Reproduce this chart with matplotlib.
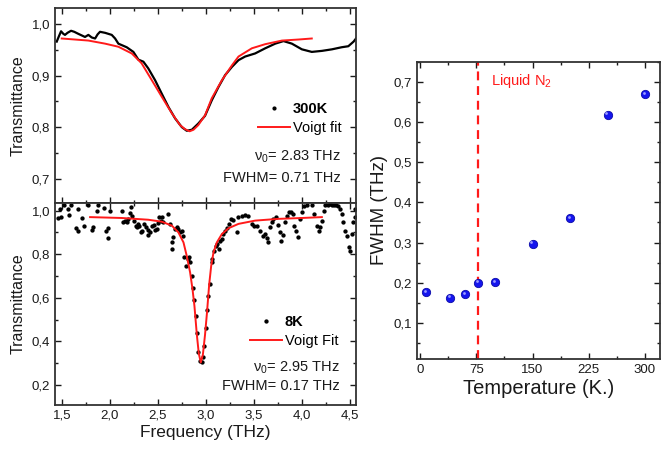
import matplotlib
matplotlib.use("Agg")
import matplotlib.pyplot as plt
import matplotlib.transforms as mtransforms
from matplotlib.ticker import MultipleLocator, FuncFormatter

plt.rcParams['font.family'] = ['Liberation Sans', 'DejaVu Sans']
plt.rcParams['mathtext.fontset'] = 'custom'
plt.rcParams['mathtext.rm'] = 'Liberation Sans'
plt.rcParams['mathtext.it'] = 'Liberation Sans'

# ---- 300 K spectrum ----
freq_300 = [1.448, 1.47, 1.493, 1.517, 1.534, 1.56, 1.597, 1.63, 1.673, 1.742,
            1.777, 1.812, 1.847, 1.873, 1.898, 1.951, 2.02, 2.055, 2.089, 2.176,
            2.245, 2.297, 2.349, 2.40, 2.471, 2.54, 2.61, 2.679, 2.749, 2.80,
            2.853, 2.92, 2.99, 3.06, 3.13, 3.199, 3.27, 3.338, 3.407, 3.511,
            3.616, 3.72, 3.806, 3.893, 3.997, 4.10, 4.206, 4.31, 4.41, 4.48,
            4.535, 4.56]
trans_300 = [0.966, 0.976, 0.986, 0.981, 0.979, 0.983, 0.987, 0.985, 0.981, 0.975,
             0.979, 0.974, 0.972, 0.980, 0.985, 0.983, 0.979, 0.972, 0.962, 0.955,
             0.946, 0.931, 0.927, 0.914, 0.891, 0.865, 0.839, 0.817, 0.800, 0.793,
             0.795, 0.807, 0.822, 0.852, 0.878, 0.901, 0.917, 0.930, 0.937, 0.943,
             0.953, 0.962, 0.967, 0.962, 0.951, 0.946, 0.948, 0.951, 0.955, 0.957,
             0.966, 0.972]

fit_f_300 = [1.50, 1.777, 1.951, 2.089, 2.228, 2.33, 2.437, 2.54, 2.645, 2.73,
             2.783, 2.83, 2.87, 2.92, 2.99, 3.06, 3.165, 3.27, 3.338, 3.477,
             3.616, 3.79, 3.96, 4.10]
fit_t_300 = [0.972, 0.968, 0.962, 0.956, 0.943, 0.924, 0.891, 0.859, 0.827, 0.804,
             0.796, 0.792, 0.795, 0.804, 0.823, 0.856, 0.891, 0.920, 0.937, 0.953,
             0.961, 0.968, 0.970, 0.972]

# ---- 8 K spectrum ----
freq_8 = [1.458, 1.493, 1.482, 1.527, 1.562, 1.576, 1.597, 1.646, 1.666, 1.673,
          1.714, 1.735, 1.777, 1.812, 1.829, 1.864, 1.875, 1.943, 1.958, 1.979,
          1.985, 2.003, 2.124, 2.141, 2.159, 2.176, 2.193, 2.211, 2.221, 2.235,
          2.256, 2.27, 2.28, 2.291, 2.304, 2.325, 2.339, 2.36, 2.374, 2.395,
          2.401, 2.419, 2.443, 2.464, 2.471, 2.489, 2.505, 2.512, 2.533, 2.547,
          2.557, 2.609, 2.627, 2.645, 2.651, 2.661, 2.679, 2.697, 2.713, 2.731,
          2.749, 2.765, 2.776, 2.79, 2.811, 2.825, 2.835, 2.853, 2.87, 2.88,
          2.894, 2.905, 2.92, 2.94, 2.955, 2.97, 2.98, 3.0, 3.009, 3.026,
          3.043, 3.061, 3.067, 3.088, 3.102, 3.113, 3.137, 3.147, 3.165, 3.182,
          3.2, 3.217, 3.241, 3.262, 3.286, 3.321, 3.338, 3.373, 3.407, 3.442,
          3.477, 3.504, 3.529, 3.564, 3.588, 3.616, 3.633, 3.644, 3.668, 3.685,
          3.702, 3.727, 3.754, 3.772, 3.782, 3.796, 3.824, 3.841, 3.858, 3.886,
          3.9, 3.92, 3.935, 3.956, 3.98, 3.997, 4.014, 4.05, 4.102, 4.118,
          4.153, 4.17, 4.188, 4.205, 4.222, 4.24, 4.27, 4.29, 4.31, 4.33,
          4.35, 4.37, 4.396, 4.413, 4.42, 4.441, 4.465, 4.482, 4.5, 4.517,
          4.524, 4.545, 4.552]
trans_8 = [0.965, 0.970, 1.008, 1.026, 1.005, 0.980, 1.026, 0.919, 0.908, 1.008,
           0.965, 0.931, 1.026, 0.912, 0.923, 1.000, 1.026, 1.011, 0.908, 0.873,
           0.919, 1.000, 1.000, 0.946, 0.954, 0.946, 0.962, 0.989, 1.016, 0.977,
           0.954, 0.931, 0.923, 0.939, 0.928, 0.903, 0.908, 0.939, 0.923, 0.888,
           0.912, 0.903, 0.928, 0.934, 0.912, 0.916, 0.943, 0.970, 0.954, 0.970,
           0.946, 0.985, 0.939, 0.857, 0.826, 0.877, 0.916, 0.923, 0.916, 0.900,
           0.908, 0.885, 0.785, 0.746, 0.777, 0.785, 0.762, 0.700, 0.646, 0.592,
           0.515, 0.439, 0.350, 0.310, 0.305, 0.330, 0.380, 0.460, 0.546, 0.608,
           0.662, 0.762, 0.777, 0.815, 0.838, 0.846, 0.823, 0.862, 0.869, 0.892,
           0.908, 0.919, 0.939, 0.962, 0.958, 0.900, 0.970, 0.974, 0.980, 0.977,
           0.939, 0.931, 0.931, 0.908, 0.885, 0.892, 0.873, 0.854, 0.923, 0.946,
           0.962, 0.970, 0.934, 0.900, 0.862, 0.888, 0.946, 0.977, 0.992, 0.995,
           0.985, 0.931, 0.908, 0.877, 0.962, 0.992, 1.020, 1.026, 1.026, 0.985,
           0.931, 0.908, 0.923, 0.954, 1.000, 1.026, 1.025, 1.028, 1.026, 1.027,
           1.025, 1.020, 1.008, 0.985, 0.946, 0.908, 0.885, 0.831, 0.815, 0.892,
           0.946, 0.970, 1.008]

fit_f_8 = [1.795, 2.124, 2.40, 2.54, 2.645, 2.713, 2.766, 2.80, 2.835, 2.86,
           2.88, 2.905, 2.925, 2.946, 2.968, 2.99, 3.01, 3.033, 3.054, 3.078,
           3.113, 3.165, 3.234, 3.338, 3.511, 3.754, 3.997, 4.205]
fit_t_8 = [0.970, 0.966, 0.958, 0.949, 0.931, 0.900, 0.854, 0.792, 0.716, 0.639,
           0.562, 0.430, 0.345, 0.303, 0.340, 0.430, 0.530, 0.660, 0.746, 0.808,
           0.854, 0.892, 0.919, 0.939, 0.954, 0.962, 0.966, 0.970]

# ---- FWHM vs temperature ----
temp_K = [8, 40, 60, 77, 100, 150, 200, 250, 300]
fwhm_THz = [0.176, 0.163, 0.171, 0.200, 0.202, 0.297, 0.360, 0.618, 0.669]
liquid_n2_K = 77

red = '#ff1a1a'
txt = '#1a1a1a'
comma = FuncFormatter(lambda v, p: ('%.1f' % v).replace('.', ','))


def style_axes(ax):
    ax.tick_params(which='both', direction='in', top=True, right=True,
                   width=1.0, colors=txt, labelsize=9.5)
    ax.tick_params(which='major', length=4.5)
    ax.tick_params(which='minor', length=2.5)
    for s in ax.spines.values():
        s.set_linewidth(1.3)
        s.set_color('#333333')


fig = plt.figure(figsize=(6.61, 4.49), dpi=100)
ax1 = fig.add_axes([0.0832, 0.548, 0.4554, 0.434])
ax2 = fig.add_axes([0.0832, 0.098, 0.4554, 0.450])
ax3 = fig.add_axes([0.6304, 0.2004, 0.3681, 0.6622])

# top panel: 300 K
ax1.plot(freq_300, trans_300, color='black', lw=1.6)
ax1.plot([], [], ls='none', marker='o', ms=2.0, color='black', label='300K')
ax1.plot(fit_f_300, fit_t_300, color=red, lw=1.4, label='Voigt fit')
ax1.set_xlim(1.43, 4.56)
ax1.set_ylim(0.653, 1.031)
ax1.xaxis.set_major_locator(MultipleLocator(0.5))
ax1.xaxis.set_minor_locator(MultipleLocator(0.25))
ax1.yaxis.set_major_locator(MultipleLocator(0.1))
ax1.yaxis.set_minor_locator(MultipleLocator(0.05))
ax1.yaxis.set_major_formatter(comma)
ax1.tick_params(labelbottom=False)
ax1.set_ylabel('Transmittance', fontsize=11.5, color=txt)
style_axes(ax1)
leg1 = ax1.legend(loc='lower right', bbox_to_anchor=(0.97, 0.32), frameon=False,
                  fontsize=10.5, handlelength=2.2, handletextpad=0.2,
                  borderaxespad=0, labelspacing=0.3)
leg1.get_texts()[0].set_fontweight('bold')
ax1.text(0.95, 0.236, r'ν$_0$= 2.83 THz', transform=ax1.transAxes,
         ha='right', va='center', fontsize=10.5, color=txt)
ax1.text(0.95, 0.128, 'FWHM= 0.71 THz', transform=ax1.transAxes,
         ha='right', va='center', fontsize=10.5, color=txt)

# bottom panel: 8 K
ax2.plot(freq_8, trans_8, ls='none', marker='o', ms=2.1, color='black', label='8K')
ax2.plot(fit_f_8, fit_t_8, color=red, lw=1.4, label='Voigt Fit')
ax2.set_xlim(1.43, 4.56)
ax2.set_ylim(0.108, 1.035)
ax2.xaxis.set_major_locator(MultipleLocator(0.5))
ax2.xaxis.set_minor_locator(MultipleLocator(0.25))
ax2.yaxis.set_major_locator(MultipleLocator(0.2))
ax2.yaxis.set_minor_locator(MultipleLocator(0.1))
ax2.xaxis.set_major_formatter(comma)
ax2.yaxis.set_major_formatter(comma)
ax2.set_xlabel('Frequency (THz)', fontsize=12.5, color=txt, labelpad=2)
ax2.set_ylabel('Transmittance', fontsize=11.5, color=txt)
style_axes(ax2)
leg2 = ax2.legend(loc='lower right', bbox_to_anchor=(0.96, 0.255), frameon=False,
                  fontsize=10.5, handlelength=2.2, handletextpad=0.2,
                  borderaxespad=0, labelspacing=0.3, markerscale=1.0)
leg2.get_texts()[0].set_fontweight('bold')
ax2.text(0.945, 0.184, r'ν$_0$= 2.95 THz', transform=ax2.transAxes,
         ha='right', va='center', fontsize=10.5, color=txt)
ax2.text(0.945, 0.095, 'FWHM= 0.17 THz', transform=ax2.transAxes,
         ha='right', va='center', fontsize=10.5, color=txt)

# right panel: FWHM vs T
ax3.axvline(liquid_n2_K, color=red, lw=1.6, ls=(0, (4, 2.6)))
ax3.plot(temp_K, fwhm_THz, ls='none', marker='o', ms=6.0,
         markerfacecolor='#1515ee', markeredgecolor='#0a0aa8', markeredgewidth=0.6)
hl = mtransforms.offset_copy(ax3.transData, fig=fig, x=-0.9, y=0.9, units='points')
ax3.plot(temp_K, fwhm_THz, ls='none', marker='o', ms=2.0, color='#9a9aff',
         markeredgewidth=0, transform=hl)
ax3.text(liquid_n2_K + 17, 0.703, r'Liquid N$_2$', color=red, fontsize=10.5,
         va='center', ha='left')
ax3.set_xlim(-4.5, 320)
ax3.set_ylim(0.01, 0.75)
ax3.xaxis.set_major_locator(MultipleLocator(75))
ax3.xaxis.set_minor_locator(MultipleLocator(37.5))
ax3.yaxis.set_major_locator(MultipleLocator(0.1))
ax3.yaxis.set_minor_locator(MultipleLocator(0.05))
ax3.yaxis.set_major_formatter(comma)
ax3.set_xlabel('Temperature (K.)', fontsize=14.5, color=txt, labelpad=2)
ax3.set_ylabel('FWHM (THz)', fontsize=13.5, color=txt, labelpad=4)
style_axes(ax3)

fig.savefig('out.png', dpi=100)
